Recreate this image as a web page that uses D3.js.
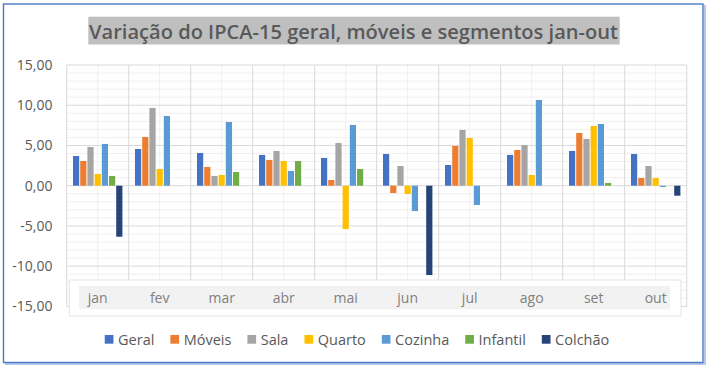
<!DOCTYPE html>
<html>
<head>
<meta charset="utf-8">
<script src="https://cdn.jsdelivr.net/npm/d3@7"></script>
<style>
  html, body { margin: 0; padding: 0; background: #fff; }
  svg { display: block; font-family: "Open Sans", sans-serif; }
</style>
</head>
<body>
<svg id="chart" width="707" height="367"></svg>
<script>
// chart data
var months = ["jan", "fev", "mar", "abr", "mai", "jun", "jul", "ago", "set", "out"];
var seriesNames = ["Geral", "Móveis", "Sala", "Quarto", "Cozinha", "Infantil", "Colchão"];
var colors = ["#4472c4", "#ed7d31", "#a5a5a5", "#ffc000", "#5b9bd5", "#70ad47", "#264478"];

var geral    = [3.69, 4.56, 4.07, 3.82, 3.45, 3.94, 2.57, 3.82, 4.32, 3.94];
var moveis   = [3.07, 6.06, 2.33, 3.20, 0.71, -0.91, 4.94, 4.44, 6.55, 0.96];
var sala     = [4.81, 9.66, 1.21, 4.32, 5.31, 2.45, 6.93, 5.06, 5.81, 2.45];
var quarto   = [1.46, 2.08, 1.33, 3.07, -5.39, -1.03, 5.93, 1.33, 7.43, 0.96];
var cozinha  = [5.19, 8.67, 7.92, 1.83, 7.55, -3.15, -2.40, 10.66, 7.67, -0.15];
var infantil = [1.21, null, 1.70, 3.07, 2.08, null, null, null, 0.34, null];
var colchao  = [-6.34, null, null, null, null, -11.10, null, null, null, -1.24];

var yTicks = [-15, -10, -5, 0, 5, 10, 15];
var title = "Variação do IPCA-15 geral, móveis e segmentos jan-out";

var allSeries = [geral, moveis, sala, quarto, cozinha, infantil, colchao];

var svg = d3.select("#chart");

// outer frame (light shadow on right/bottom, blue line)
svg.append("path")
    .attr("d", "M705,5 V364 H5")
    .attr("fill", "none")
    .attr("stroke", "#b4c7e7")
    .attr("stroke-width", 2);
svg.append("rect")
    .attr("x", 3.5).attr("y", 4).attr("width", 699.5).attr("height", 358.5)
    .attr("fill", "none")
    .attr("stroke", "#4a78c8")
    .attr("stroke-width", 1.4);

// scales
var x0 = d3.scaleBand().domain(months).range([66.7, 686.7]).padding(0);
var x1 = d3.scaleBand().domain(seriesNames).range([0, x0.bandwidth()])
    .paddingInner(0.14).paddingOuter(0.875);
var y = d3.scaleLinear().domain([-15, 15]).range([306.4, 65]);

// minor gridlines
var minorY = d3.range(-15, 16, 1).filter(function(v) { return v % 5 !== 0; });
svg.append("g").selectAll("line").data(minorY).enter().append("line")
    .attr("x1", 66.7).attr("x2", 686.7)
    .attr("y1", function(d) { return y(d); })
    .attr("y2", function(d) { return y(d); })
    .attr("stroke", "#f0f0f0").attr("stroke-width", 1);

svg.append("g").selectAll("line").data(months).enter().append("line")
    .attr("x1", function(d) { return x0(d) + x0.bandwidth() / 2; })
    .attr("x2", function(d) { return x0(d) + x0.bandwidth() / 2; })
    .attr("y1", 65).attr("y2", 306.4)
    .attr("stroke", "#f0f0f0").attr("stroke-width", 1);

// major gridlines
svg.append("g").selectAll("line").data(yTicks).enter().append("line")
    .attr("x1", 66.7).attr("x2", 686.7)
    .attr("y1", function(d) { return y(d); })
    .attr("y2", function(d) { return y(d); })
    .attr("stroke", "#d9d9d9").attr("stroke-width", 1);

var bounds = months.map(function(d) { return x0(d); }).concat([686.7]);
svg.append("g").selectAll("line").data(bounds).enter().append("line")
    .attr("x1", function(d) { return d; })
    .attr("x2", function(d) { return d; })
    .attr("y1", 65).attr("y2", 306.4)
    .attr("stroke", "#d9d9d9").attr("stroke-width", 1);

// y tick labels
var fmt = function(v) { return d3.format(".2f")(v).replace(".", ",").replace("−", "-"); };
svg.append("g").selectAll("text").data(yTicks).enter().append("text")
    .attr("x", 52.5)
    .attr("y", function(d) { return y(d) + 5; })
    .attr("text-anchor", "end")
    .attr("font-size", 14)
    .attr("fill", "#595959")
    .text(fmt);

// bars
var groups = svg.append("g").selectAll("g").data(months).enter().append("g")
    .attr("transform", function(d) { return "translate(" + x0(d) + ",0)"; });

groups.selectAll("rect")
    .data(function(m, i) {
        return seriesNames.map(function(s, j) {
            return { name: s, value: allSeries[j][i], color: colors[j] };
        }).filter(function(d) { return d.value !== null; });
    })
    .enter().append("rect")
    .attr("x", function(d) { return x1(d.name); })
    .attr("width", x1.bandwidth())
    .attr("y", function(d) { return y(Math.max(0, d.value)); })
    .attr("height", function(d) { return Math.abs(y(d.value) - y(0)); })
    .attr("fill", function(d) { return d.color; });

// category label box
svg.append("rect")
    .attr("x", 69.3).attr("y", 280).attr("width", 611.7).attr("height", 36)
    .attr("fill", "#fff").attr("stroke", "#e4e4e4").attr("stroke-width", 1);
svg.append("rect")
    .attr("x", 79).attr("y", 286).attr("width", 591).attr("height", 23.3)
    .attr("fill", "#f2f2f2");

svg.append("g").selectAll("text").data(months).enter().append("text")
    .attr("x", function(d) { return x0(d) + x0.bandwidth() / 2; })
    .attr("y", 302.5)
    .attr("text-anchor", "middle")
    .attr("font-size", 14)
    .attr("fill", "#808080")
    .text(function(d) { return d; });

// title
svg.append("rect")
    .attr("x", 88.3).attr("y", 16.7).attr("width", 531.4).attr("height", 27.8)
    .attr("fill", "#bfbfbf");
svg.append("text")
    .attr("x", 89).attr("y", 38.5)
    .attr("font-size", 20.5)
    .attr("font-weight", 600)
    .attr("fill", "#595959")
    .attr("textLength", 529)
    .attr("lengthAdjust", "spacingAndGlyphs")
    .text(title);

// legend
var legend = svg.append("g").attr("font-size", 14.5).attr("fill", "#595959");
var items = legend.selectAll("g").data(seriesNames).enter().append("g");
items.append("rect")
    .attr("width", 8.7).attr("height", 8.7)
    .attr("y", 335)
    .attr("fill", function(d, i) { return colors[i]; });
items.append("text")
    .attr("x", 13.3)
    .attr("y", 344.5)
    .text(function(d) { return d; });

var pos = 0, offsets = [];
items.each(function() {
    offsets.push(pos);
    var w = d3.select(this).select("text").node().getComputedTextLength();
    pos += 13.3 + w + 16;
});
var total = pos - 16;
var startX = 357 - total / 2;
items.attr("transform", function(d, i) { return "translate(" + (startX + offsets[i]) + ",0)"; });
</script>
</body>
</html>
